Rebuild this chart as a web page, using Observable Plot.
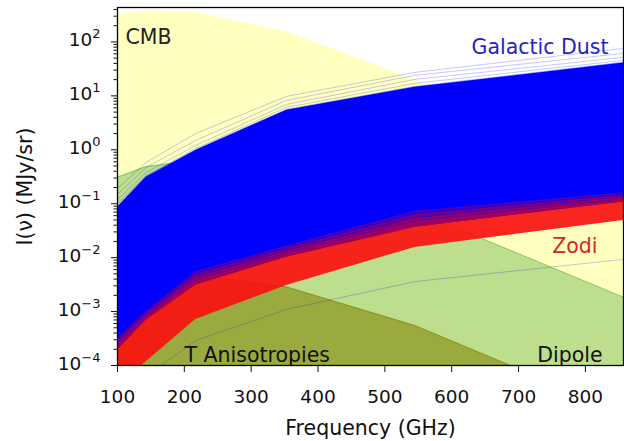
<!DOCTYPE html>
<html><head><meta charset="utf-8">
<script src="https://cdn.jsdelivr.net/npm/d3@7"></script>
<script src="https://cdn.jsdelivr.net/npm/@observablehq/plot@0.6"></script>
<style>body{margin:0;background:#fff;} svg{display:block;}</style>
</head><body><div id="chart"></div>
<script>
// Planck band centres (GHz)
const freqs = [100, 143, 217, 353, 545, 857];
// upper edges of the shaded components (MJy/sr)
const cmbUpper    = [321, 374, 350, 155, 20.2, 0.35];
const dipoleUpper = [0.31, 0.49, 0.63, 0.387, 0.074, 0.00185];
const anisoUpper  = [2.3e-3, 3.6e-3, 4.7e-3, 2.86e-3, 5.5e-4, 1.33e-5];
// galactic dust
const dustTop     = [0.085, 0.31, 0.97, 5.4, 14.4, 40.6];
const dustLine1   = [0.192, 0.583, 2.01, 9.8, 27.3, 76];
const dustLine2   = [0.149, 0.471, 1.49, 8.26, 24.0, 61.4];
const dustLine3   = [0.120, 0.381, 1.21, 6.95, 20.2, 51.8];
const dustLine4   = [0.101, 0.335, 1.06, 6.12, 17.1, 45.6];
const dustLowest  = [2.5e-5, 6.3e-5, 2.9e-4, 1.1e-3, 3.6e-3, 9.3e-3];
// zodiacal light
const zodiLower    = [4e-5, 1.17e-4, 7.1e-4, 3.05e-3, 0.0155, 0.049];
const zodiSolidTop = [1.9e-4, 6.8e-4, 3.05e-3, 0.0101, 0.036, 0.106];
const zodiLine1 = [3.16e-4, 1.0e-3, 5.5e-3, 0.0162, 0.072, 0.158];
const zodiLine2 = [2.82e-4, 9.1e-4, 4.8e-3, 0.0145, 0.062, 0.141];
const zodiLine3 = [2.51e-4, 8.3e-4, 4.2e-3, 0.0129, 0.052, 0.129];
const zodiLine4 = [2.24e-4, 7.6e-4, 3.6e-3, 0.0115, 0.045, 0.117];
const zodiLine5 = [2.0e-4, 6.9e-4, 3.2e-3, 0.0102, 0.038, 0.107];
const fillBase = 1e-7;
// ticks
const xTicks = [100, 200, 300, 400, 500, 600, 700, 800];
const yTicks = [1e-4, 1e-3, 1e-2, 1e-1, 1, 10, 100];
const yTickExponents = ["−4", "−3", "−2", "−1", "0", "1", "2"];
const yMinor = [];
for (const d of yTicks) for (let m = 2; m <= 9; m++) if (d * m < 435) yMinor.push(d * m);

const band = (lo, hi) => freqs.map((f, i) => ({f, lo: Array.isArray(lo) ? lo[i] : lo, hi: hi[i]}));
const line = (v) => freqs.map((f, i) => ({f, v: v[i]}));

const font = "DejaVu Sans";
const zodiLines = [zodiLine1, zodiLine2, zodiLine3, zodiLine4, zodiLine5];
const dustLines = [dustLine1, dustLine2, dustLine3, dustLine4];

const marks = [
  Plot.areaY(band(fillBase, cmbUpper), {x: "f", y1: "lo", y2: "hi", fill: "yellow", fillOpacity: 0.25, clip: true}),
  Plot.areaY(band(fillBase, dipoleUpper), {x: "f", y1: "lo", y2: "hi", fill: "green", fillOpacity: 0.26, clip: true}),
  Plot.lineY(line(dipoleUpper), {x: "f", y: "v", stroke: "green", strokeOpacity: 0.3, strokeWidth: 1, clip: true}),
  Plot.areaY(band(fillBase, anisoUpper), {x: "f", y1: "lo", y2: "hi", fill: "olive", fillOpacity: 0.55, clip: true}),
  Plot.lineY(line(anisoUpper), {x: "f", y: "v", stroke: "olive", strokeOpacity: 0.6, strokeWidth: 1, clip: true}),
  ...dustLines.map(d => Plot.lineY(line(d), {x: "f", y: "v", stroke: "blue", strokeOpacity: 0.22, strokeWidth: 1, clip: true})),
  Plot.lineY(line(dustLowest), {x: "f", y: "v", stroke: "blue", strokeOpacity: 0.22, strokeWidth: 1, clip: true}),
  Plot.areaY(band(zodiSolidTop, dustTop), {x: "f", y1: "lo", y2: "hi", fill: "blue", clip: true}),
  Plot.lineY(line(dustTop), {x: "f", y: "v", stroke: "blue", strokeOpacity: 0.35, strokeWidth: 2.5, clip: true}),
  Plot.areaY(band(zodiLower, zodiSolidTop), {x: "f", y1: "lo", y2: "hi", fill: "rgb(250,18,16)", fillOpacity: 0.92, clip: true}),
  ...zodiLines.map(d => Plot.areaY(band(zodiSolidTop, d), {x: "f", y1: "lo", y2: "hi", fill: "red", fillOpacity: 0.2, clip: true})),
  ...zodiLines.map(d => Plot.lineY(line(d), {x: "f", y: "v", stroke: "red", strokeOpacity: 0.25, strokeWidth: 1, clip: true})),
  Plot.frame({stroke: "black", strokeWidth: 1.3}),
  Plot.axisY({ticks: yMinor, tickSize: 3.5, tickFormat: () => "", label: null}),
  Plot.axisY({ticks: yTicks, tickSize: 6, tickPadding: 11, tickFormat: d => "10^" + yTickExponents[yTicks.indexOf(d)], fontSize: 18.5, label: null}),
  Plot.axisX({ticks: xTicks, tickSize: 7, tickPadding: 17, fontSize: 18.5, label: null}),
  Plot.text(["CMB"], {frameAnchor: "top-left", textAnchor: "start", lineAnchor: "bottom", dx: 8, dy: 36, fontSize: 20.5, fill: "#222"}),
  Plot.text(["Galactic Dust"], {frameAnchor: "top-right", textAnchor: "end", lineAnchor: "bottom", dx: -15, dy: 46, fontSize: 20.5, fill: "#2424c4"}),
  Plot.text(["Zodi"], {frameAnchor: "top-right", textAnchor: "end", lineAnchor: "bottom", dx: -26, dy: 245.5, fontSize: 20.5, fill: "#d52424"}),
  Plot.text(["T Anisotropies"], {frameAnchor: "bottom-left", textAnchor: "start", lineAnchor: "bottom", dx: 67, dy: -3.3, fontSize: 20.5, fill: "#111"}),
  Plot.text(["Dipole"], {frameAnchor: "bottom-right", textAnchor: "end", lineAnchor: "bottom", dx: -21, dy: -3.3, fontSize: 20.5, fill: "#111"}),
  Plot.text(["Frequency (GHz)"], {frameAnchor: "bottom", textAnchor: "middle", lineAnchor: "bottom", dy: 69, fontSize: 20.5, fill: "#111"}),
  Plot.text(["I(ν) (MJy/sr)"], {frameAnchor: "left", textAnchor: "middle", lineAnchor: "bottom", rotate: -90, dx: -86, fontSize: 20.5, fill: "#111"})
];

const chart = Plot.plot({
  width: 624, height: 441,
  marginLeft: 117, marginRight: 1, marginTop: 7, marginBottom: 76,
  style: {fontFamily: font, fontSize: "18.5px", color: "#111", background: "#fff"},
  x: {domain: [100, 857]},
  y: {type: "log", domain: [1e-4, 435]},
  marks
});
// render "10^e" tick labels as base + raised exponent
d3.select(chart).selectAll("text").each(function() {
  const t = this.textContent;
  if (/^10\^/.test(t)) {
    const exp = t.slice(3);
    const sel = d3.select(this);
    sel.text(null);
    sel.append("tspan").text("10");
    sel.append("tspan").attr("font-size", "13px").attr("dy", "-8").text(exp);
    const y0 = +sel.attr("y") || 0;
    sel.attr("y", y0 + 4);
  }
});
document.getElementById("chart").appendChild(chart);
</script>
</body></html>
